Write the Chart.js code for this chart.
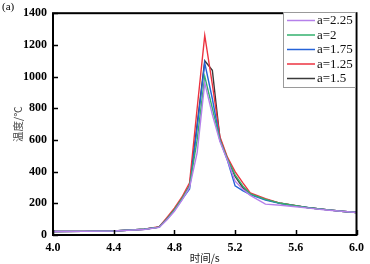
<!DOCTYPE html>
<html>
<head>
<meta charset="utf-8">
<script src="https://cdn.jsdelivr.net/npm/chart.js@4"></script>
<style>
  body { margin: 0; background: #fff; }
  #wrap { width: 370px; height: 264px; position: relative; }
</style>
</head>
<body>
<div id="wrap"><canvas id="chart1"></canvas></div>
<script>
// time points (s) and temperatures (°C)
const times = [4.0, 4.2, 4.4, 4.6, 4.7, 4.75, 4.8, 4.85, 4.9, 4.95, 5.0, 5.05, 5.1, 5.15, 5.2, 5.25, 5.3, 5.4, 5.5, 5.6, 5.7, 5.8, 5.9, 6.0];

const temp_a225 = [22, 23, 25, 35, 48, 95, 150, 220, 300, 520, 960, 760, 590, 470, 340, 290, 250, 195, 188, 178, 168, 158, 150, 142];
const temp_a2   = [22, 23, 25, 36, 50, 100, 160, 230, 310, 600, 1000, 800, 600, 480, 380, 310, 260, 225, 200, 185, 170, 160, 150, 142];
const temp_a175 = [22, 23, 25, 36, 50, 100, 155, 225, 290, 680, 1085, 860, 600, 470, 310, 280, 255, 220, 198, 183, 170, 160, 150, 142];
const temp_a125 = [22, 23, 25, 36, 52, 110, 170, 240, 330, 800, 1260, 950, 620, 490, 400, 330, 265, 230, 200, 185, 170, 160, 150, 142];
const temp_a15  = [22, 23, 25, 36, 50, 100, 160, 230, 310, 700, 1100, 1040, 610, 480, 370, 300, 258, 225, 200, 185, 170, 160, 150, 142];

const seriesLabels = ["a=2.25", "a=2", "a=1.75", "a=1.25", "a=1.5"];
const seriesColors = ["#b580ea", "#33b06e", "#2563d8", "#ec3340", "#3a3a3a"];
const seriesData = [temp_a225, temp_a2, temp_a175, temp_a125, temp_a15];

const xTicks = [4.0, 4.4, 4.8, 5.2, 5.6, 6.0];
const yTicks = [0, 200, 400, 600, 800, 1000, 1200, 1400];

const SERIF = "'Liberation Serif', 'Times New Roman', 'DejaVu Serif', serif";

function toPoints(arr) {
  return arr.map((v, i) => ({ x: times[i], y: v }));
}

// frame, inward ticks, legend box and panel letter
const framePlugin = {
  id: "frame",
  afterDraw(chart) {
    const ctx = chart.ctx;
    const a = chart.chartArea;
    const xs = chart.scales.x, ys = chart.scales.y;
    ctx.save();
    ctx.strokeStyle = "#000";
    ctx.lineWidth = 2;
    ctx.strokeRect(a.left, a.top, a.right - a.left, a.bottom - a.top);
    ctx.lineWidth = 1.5;
    ctx.beginPath();
    xTicks.forEach(t => {
      const px = Math.round(xs.getPixelForValue(t)) + 0.5;
      ctx.moveTo(px, a.bottom);
      ctx.lineTo(px, a.bottom - 5);
    });
    yTicks.forEach(t => {
      const py = Math.round(ys.getPixelForValue(t)) + 0.5;
      ctx.moveTo(a.left, py);
      ctx.lineTo(a.left + 5, py);
    });
    ctx.stroke();

    // legend
    const lx = 283, ly = 12, lw = 72, lh = 75;
    ctx.fillStyle = "#fff";
    ctx.fillRect(lx, ly, lw, lh);
    ctx.strokeStyle = "#9a9a9a";
    ctx.lineWidth = 1;
    ctx.strokeRect(lx + 0.5, ly + 0.5, lw, lh);
    ctx.font = "13px " + SERIF;
    ctx.textBaseline = "middle";
    ctx.textAlign = "left";
    seriesLabels.forEach((lab, i) => {
      const y = ly + 8.5 + i * 14.5;
      ctx.strokeStyle = seriesColors[i];
      ctx.lineWidth = 1.5;
      ctx.beginPath();
      ctx.moveTo(lx + 4, y);
      ctx.lineTo(lx + 32, y);
      ctx.stroke();
      ctx.fillStyle = "#111";
      ctx.fillText(lab, lx + 34, y + 0.5);
    });

    ctx.fillStyle = "#000";
    ctx.font = "11px " + SERIF;
    ctx.fillText("(a)", 2, 7);
    ctx.restore();
  }
};

const ctx = document.getElementById("chart1").getContext("2d");
const myChart = new Chart(ctx, {
  type: "line",
  data: {
    datasets: seriesData.map((d, i) => ({
      label: seriesLabels[i],
      data: toPoints(d),
      borderColor: seriesColors[i],
      backgroundColor: seriesColors[i],
      borderWidth: 1.4,
      pointRadius: 0,
      tension: 0
    }))
  },
  options: {
    responsive: true,
    maintainAspectRatio: false,
    animation: false,
    layout: { padding: { left: 0, top: 6, right: 10, bottom: 0 } },
    plugins: {
      legend: { display: false },
      tooltip: { enabled: false }
    },
    scales: {
      x: {
        type: "linear",
        min: 4.0,
        max: 6.0,
        afterBuildTicks: (s) => { s.ticks = xTicks.map(v => ({ value: v })); },
        afterFit: (s) => { s.height = 29; },
        grid: { display: false, drawTicks: false },
        border: { display: false },
        ticks: {
          padding: 6,
          color: "#000",
          font: { family: SERIF, size: 12, weight: "bold" },
          callback: (v) => Number(v).toFixed(1)
        },
        title: {
          display: true,
          text: "时间/s",
          color: "#222",
          padding: { top: 0, bottom: 0 },
          font: { family: "Noto Sans CJK SC", size: 10.5 }
        }
      },
      y: {
        min: 0,
        max: 1400,
        afterBuildTicks: (s) => { s.ticks = yTicks.map(v => ({ value: v })); },
        afterFit: (s) => { s.width = 53; },
        grid: { display: false, drawTicks: false },
        border: { display: false },
        ticks: {
          padding: 6,
          color: "#000",
          font: { family: SERIF, size: 12, weight: "bold" },
          callback: (v) => String(v)
        },
        title: {
          display: true,
          text: "温度/℃",
          color: "#444",
          padding: { top: 12, bottom: 0 },
          font: { family: "Noto Sans CJK SC", size: 10.5 }
        }
      }
    }
  },
  plugins: [framePlugin]
});
</script>
</body>
</html>
